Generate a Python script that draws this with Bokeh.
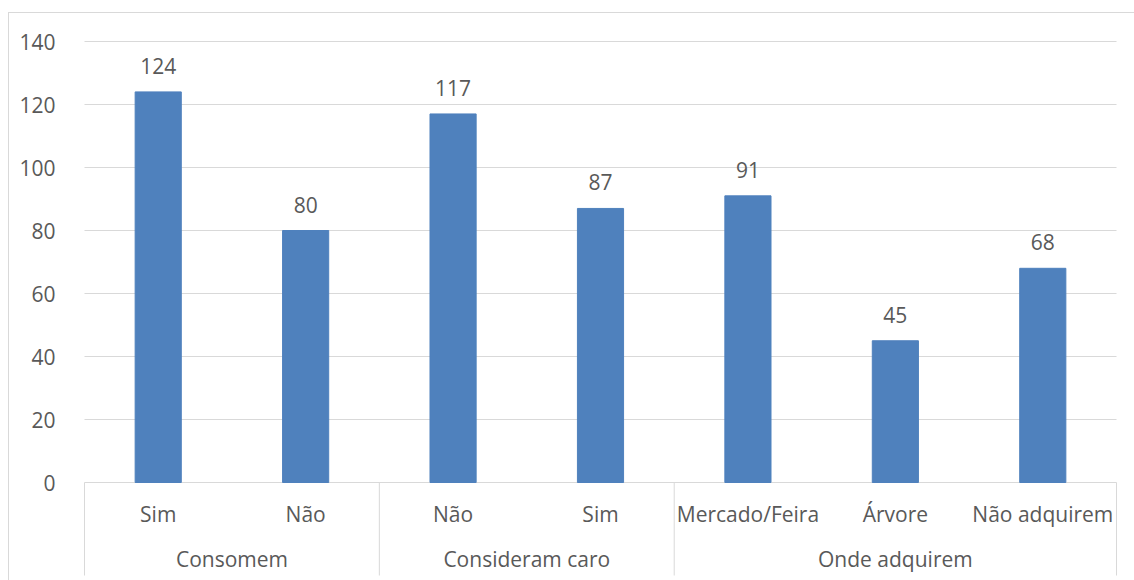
from bokeh.plotting import figure
from bokeh.models import Range1d, FixedTicker
from bokeh.core.properties import value
from bokeh.embed import file_html
from bokeh.resources import INLINE

# Survey answers, grouped by question
groups = ["Consomem", "Consideram caro", "Onde adquirem"]
group_sizes = [2, 2, 3]
categories = ["Sim", "Não", "Não", "Sim", "Mercado/Feira", "Árvore", "Não adquirem"]
counts = [124, 80, 117, 87, 91, 45, 68]
y_ticks = [0, 20, 40, 60, 80, 100, 120, 140]

FONT = "Open Sans"
FONT_SIZE = "21px"
TEXT = "#595959"
GRID = "#d9d9d9"
BAR = "#4f81bd"

PAGE_W, PAGE_H = 1134, 580
# the chart sits inside a thin frame drawn around its top-left corner
OX, OY = 9, 13
W, H = PAGE_W - OX, PAGE_H - OY
n = len(categories)

# page-pixel geometry
frame_left, frame_right = 78, 1122
cat_left, cat_right = 84, 1116
cw = (cat_right - cat_left) / n
frame_top = 30
zero_px = 482
y_top_val = 140
ppu = (zero_px - 41) / y_top_val

x_start = -(cat_left - frame_left) / cw
x_end = n + (frame_right - cat_right) / cw
y_end = y_top_val + (41 - frame_top) / ppu
y_start = -(PAGE_H - zero_px) / ppu


def px_y(px):
    return (zero_px - px) / ppu


p = figure(
    width=W, height=H,
    x_range=Range1d(x_start, x_end), y_range=Range1d(y_start, y_end),
    x_axis_location=None,
    output_backend="svg", toolbar_location=None,
    min_border_left=frame_left - OX, min_border_right=PAGE_W - frame_right,
    min_border_top=frame_top - OY, min_border_bottom=0,
    margin=(OY, 0, 0, OX),
    styles={"outline": "1px solid " + GRID},
)
p.outline_line_color = None
p.background_fill_color = "white"
p.border_fill_color = "white"

# value axis
yaxis = p.yaxis[0]
yaxis.ticker = FixedTicker(ticks=y_ticks)
yaxis.axis_line_color = None
yaxis.major_tick_line_color = None
yaxis.minor_tick_line_color = None
yaxis.major_label_text_font = FONT
yaxis.major_label_text_font_size = FONT_SIZE
yaxis.major_label_text_color = TEXT
yaxis.major_label_standoff = frame_left - 61

# horizontal gridlines across the category span only
p.xgrid.visible = False
p.ygrid.visible = False
p.segment(x0=[0] * len(y_ticks), y0=y_ticks, x1=[n] * len(y_ticks), y1=y_ticks,
          line_color=GRID, line_width=1)

xs = [i + 0.5 for i in range(n)]

# bars and their value labels
p.vbar(x=xs, top=counts, width=0.313, color=BAR)
p.text(
    x=xs, y=counts, text=[str(c) for c in counts], y_offset=-26,
    text_align="center", text_baseline="middle",
    text_font=value(FONT), text_font_size=FONT_SIZE, text_color=TEXT,
)

# group separators below the category axis
bounds = [0]
for s in group_sizes:
    bounds.append(bounds[-1] + s)
sep_bottom = px_y(575)
p.segment(x0=bounds, y0=[0] * len(bounds), x1=bounds, y1=[sep_bottom] * len(bounds),
          line_color=GRID, line_width=1)

# category labels
p.text(
    x=xs, y=[px_y(513)] * n, text=categories,
    text_align="center", text_baseline="middle",
    text_font=value(FONT), text_font_size=FONT_SIZE, text_color=TEXT,
)
group_x = [(bounds[i] + bounds[i + 1]) / 2 for i in range(len(groups))]
p.text(
    x=group_x, y=[px_y(558)] * len(groups), text=groups,
    text_align="center", text_baseline="middle",
    text_font=value(FONT), text_font_size=FONT_SIZE, text_color=TEXT,
)

open("out.html", "w").write(file_html(p, INLINE))
